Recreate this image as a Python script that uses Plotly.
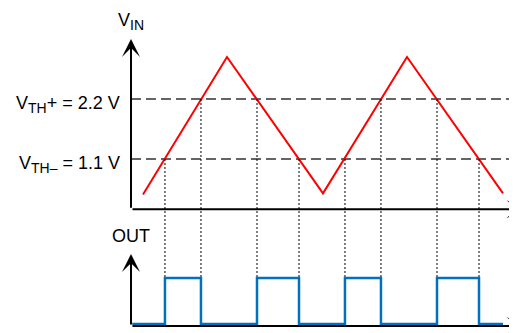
import plotly.graph_objects as go

# time in arbitrary units, V_IN in volts, OUT as a logic level
vin_t = [1, 8, 16, 23, 31]
vin_v = [0.45, 2.97, 0.47, 2.97, 0.47]

vth_hi = 2.2
vth_lo = 1.1
vth_end = 31.5

# comparator switching instants (where V_IN crosses a threshold)
switch_t = [2.83, 5.83, 10.5, 14.0, 17.83, 20.83, 25.5, 29.0]
switch_v = [vth_lo, vth_hi, vth_hi, vth_lo, vth_lo, vth_hi, vth_hi, vth_lo]

out_t = [0.1, 2.83, 5.83, 10.5, 14.0, 17.83, 20.83, 25.5, 29.0, 31]
out_v = [0, 1, 0, 1, 0, 1, 0, 1, 0, 0]

# axis ranges (page body adds an 8px offset, compensated here)
x_range = [-10.25, 32.833]
vin_range = [-2.236, 3.868]
out_range = [-0.370, 6.870]

vin_axis = [0.18, 3.30]     # baseline / arrow tip
out_axis = [-0.043, 1.52]
t_axis_end = 32.8

FONT = "Liberation Sans, Arial, sans-serif"
SUB = '<sub><span style="font-size:14px">{}</span></sub>'


def vin_to_out(v):
    # map a V_IN axis value onto the OUT axis (both span the full figure)
    frac = (v - vin_range[0]) / (vin_range[1] - vin_range[0])
    return out_range[0] + frac * (out_range[1] - out_range[0])


fig = go.Figure()

# threshold lines
for v in [vth_hi, vth_lo]:
    fig.add_trace(go.Scatter(x=[0, vth_end], y=[v, v], mode="lines",
                             line=dict(color="#333333", width=1.5, dash="10px,5px"),
                             yaxis="y", hoverinfo="skip"))

# dotted drop lines from crossings down to OUT high level
for t, v in zip(switch_t, switch_v):
    fig.add_trace(go.Scatter(x=[t, t], y=[vin_to_out(v), 1], mode="lines",
                             line=dict(color="black", width=1, dash="2px,2px"),
                             yaxis="y2", hoverinfo="skip"))

# V_IN triangle wave
fig.add_trace(go.Scatter(x=vin_t, y=vin_v, mode="lines",
                         line=dict(color="#ff0000", width=2), yaxis="y"))

# OUT square wave
fig.add_trace(go.Scatter(x=out_t, y=out_v, mode="lines", line_shape="hv",
                         line=dict(color="#0070c0", width=2.5), yaxis="y2"))

# axes drawn as arrows
for yref, (lo, hi) in [("y", vin_axis), ("y2", out_axis)]:
    arrow = dict(text="", showarrow=True, arrowhead=3, arrowsize=1.5, arrowwidth=2,
                 arrowcolor="black", xref="x", yref=yref, axref="x", ayref=yref)
    fig.add_annotation(x=0, y=hi, ax=0, ay=lo, **arrow)
    fig.add_annotation(x=t_axis_end, y=lo, ax=0, ay=lo, **arrow)

# labels
label_font = dict(family=FONT, size=18, color="black")
fig.add_annotation(x=-0.77, y=vth_hi - 0.1, xref="x", yref="y",
                   text="V" + SUB.format("TH") + "+ = 2.2 V",
                   xanchor="right", yanchor="middle", showarrow=False, font=label_font)
fig.add_annotation(x=-0.77, y=vth_lo - 0.1, xref="x", yref="y",
                   text="V" + SUB.format("TH\u2013") + " = 1.1 V",
                   xanchor="right", yanchor="middle", showarrow=False, font=label_font)
fig.add_annotation(x=0, y=1, xref="x", yref="paper",
                   text="V" + SUB.format("IN"),
                   xanchor="center", yanchor="top", showarrow=False, font=label_font)
fig.add_annotation(x=0, y=1 - 228 / 333, xref="x", yref="paper", text="OUT",
                   xanchor="center", yanchor="middle", showarrow=False, font=label_font)

fig.update_layout(
    width=517, height=333,
    margin=dict(l=0, r=0, t=0, b=0),
    paper_bgcolor="white", plot_bgcolor="white",
    showlegend=False,
    xaxis=dict(range=x_range, visible=False, fixedrange=True),
    yaxis=dict(range=vin_range, visible=False, domain=[0, 1], fixedrange=True),
    yaxis2=dict(range=out_range, visible=False, overlaying="y", fixedrange=True),
)

fig.write_html("out.html")
